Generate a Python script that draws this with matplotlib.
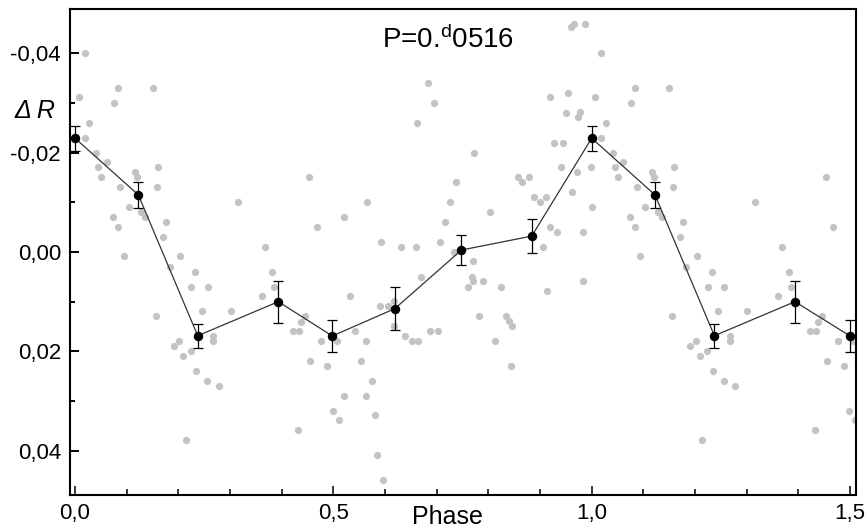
import matplotlib
matplotlib.use("Agg")
import matplotlib.pyplot as plt
from matplotlib.ticker import FixedLocator, MultipleLocator

plt.rcParams['font.family'] = ['Liberation Sans', 'DejaVu Sans']
plt.rcParams['mathtext.fontset'] = 'custom'
plt.rcParams['mathtext.rm'] = 'Liberation Sans'
plt.rcParams['mathtext.it'] = 'Liberation Sans:italic'

# ---- individual observations (gray) ----
obs_phase = [
    0.019, 0.007, 0.083, 0.150, 0.076, 0.028, 0.019, 0.041, 0.061, 0.045,
    0.050, 0.116, 0.120, 0.160, 0.088, 0.158, 0.316, 0.104, 0.128, 0.136,
    0.074, 0.083, 0.177, 0.170, 0.094, 0.203,
    0.661, 0.4535, 0.566, 0.521, 0.468, 0.368, 0.592, 0.630, 0.660,
    0.960, 0.966, 0.987, 0.683, 0.694, 0.919, 0.954, 0.950, 0.977, 0.974,
    0.773, 0.928, 0.944, 0.941, 0.972, 0.998, 0.737, 0.857, 0.866, 0.878,
    0.726, 0.803, 0.889, 0.900, 0.911, 0.961, 1.000, 0.716, 0.920, 0.933,
    0.984, 0.706, 0.734, 0.906,
    0.183, 0.232, 0.225, 0.257, 0.156, 0.245, 0.301, 0.267, 0.267, 0.201,
    0.191, 0.224, 0.209, 0.235, 0.256, 0.278, 0.214,
    0.382, 0.385, 0.361, 0.446, 0.438, 0.422, 0.434, 0.432, 0.532, 0.476,
    0.5065, 0.542, 0.563, 0.590, 0.606, 0.617, 0.617, 0.639, 0.652, 0.663,
    0.670, 0.455, 0.488, 0.553, 0.575, 0.521, 0.563, 0.499, 0.510, 0.581,
    0.585, 0.597,
    0.771, 0.769, 0.771, 0.760, 0.790, 0.824, 0.983, 0.914, 0.781, 0.834,
    0.840, 0.845, 0.687, 0.702, 0.813, 0.843,
    # second cycle
    1.019, 1.007, 1.083, 1.150, 1.076, 1.028, 1.019, 1.041, 1.061, 1.045,
    1.050, 1.116, 1.120, 1.160, 1.088, 1.158, 1.316, 1.104, 1.128, 1.136,
    1.074, 1.083, 1.177, 1.170, 1.094, 1.203, 1.4535, 1.468, 1.368,
    1.183, 1.232, 1.225, 1.257, 1.156, 1.245, 1.301, 1.267, 1.267, 1.201,
    1.191, 1.224, 1.209, 1.235, 1.256, 1.278, 1.214,
    1.382, 1.385, 1.361, 1.446, 1.438, 1.422, 1.434, 1.432, 1.476, 1.5065,
    1.455, 1.488, 1.499, 1.510,
]
obs_dr = [
    -0.0400, -0.0311, -0.0330, -0.0330, -0.0300, -0.0260, -0.0230, -0.0200, -0.0181, -0.0171,
    -0.0150, -0.0160, -0.0151, -0.0171, -0.0130, -0.0130, -0.0101, -0.0090, -0.0081, -0.0070,
    -0.0070, -0.0050, -0.0060, -0.0030, 0.0009, 0.0009,
    -0.0260, -0.0150, -0.0101, -0.0070, -0.0050, -0.0011, -0.0021, -0.0011, -0.0011,
    -0.0452, -0.0459, -0.0459, -0.0341, -0.0300, -0.0311, -0.0320, -0.0280, -0.0281, -0.0271,
    -0.0200, -0.0220, -0.0220, -0.0171, -0.0160, -0.0171, -0.0140, -0.0150, -0.0140, -0.0150,
    -0.0101, -0.0081, -0.0110, -0.0101, -0.0110, -0.0120, -0.0090, -0.0060, -0.0050, -0.0041,
    -0.0041, -0.0021, 0.0000, -0.0011,
    0.0030, 0.0040, 0.0070, 0.0070, 0.0129, 0.0119, 0.0119, 0.0169, 0.0179, 0.0179,
    0.0189, 0.0199, 0.0209, 0.0239, 0.0259, 0.0269, 0.0379,
    0.0040, 0.0070, 0.0089, 0.0129, 0.0140, 0.0159, 0.0159, 0.0359, 0.0089, 0.0179,
    0.0179, 0.0159, 0.0179, 0.0109, 0.0109, 0.0099, 0.0149, 0.0169, 0.0179, 0.0179,
    0.0050, 0.0219, 0.0229, 0.0219, 0.0259, 0.0289, 0.0289, 0.0319, 0.0339, 0.0329,
    0.0409, 0.0459,
    0.0019, 0.0050, 0.0058, 0.0070, 0.0058, 0.0070, 0.0058, 0.0079, 0.0129, 0.0129,
    0.0139, 0.0149, 0.0159, 0.0159, 0.0179, 0.0229,
    # second cycle
    -0.0400, -0.0311, -0.0330, -0.0330, -0.0300, -0.0260, -0.0230, -0.0200, -0.0181, -0.0171,
    -0.0150, -0.0160, -0.0151, -0.0171, -0.0130, -0.0130, -0.0101, -0.0090, -0.0081, -0.0070,
    -0.0070, -0.0050, -0.0060, -0.0030, 0.0009, 0.0009, -0.0150, -0.0050, -0.0011,
    0.0030, 0.0040, 0.0070, 0.0070, 0.0129, 0.0119, 0.0119, 0.0169, 0.0179, 0.0179,
    0.0189, 0.0199, 0.0209, 0.0239, 0.0259, 0.0269, 0.0379,
    0.0040, 0.0070, 0.0089, 0.0129, 0.0140, 0.0159, 0.0159, 0.0359, 0.0179, 0.0179,
    0.0219, 0.0229, 0.0319, 0.0339,
]

# ---- binned means with errors (black) ----
bin_phase = [0.000, 0.1225, 0.2375, 0.3935, 0.498, 0.619, 0.748, 0.884,
             1.000, 1.1225, 1.2375, 1.3935, 1.500]
bin_dr = [-0.0229, -0.0115, 0.01685, 0.0100, 0.0169, 0.0114, -0.0004, -0.0032,
          -0.0229, -0.0115, 0.01685, 0.0100, 0.0169]
bin_err = [0.0025, 0.0026, 0.0024, 0.0042, 0.0033, 0.0043, 0.0031, 0.0035,
           0.0025, 0.0026, 0.0024, 0.0042, 0.0033]

x_major = [0.0, 0.5, 1.0, 1.5]
x_labels = ['0,0', '0,5', '1,0', '1,5']
y_major = [-0.04, -0.02, 0.00, 0.02, 0.04]
y_labels = ['-0,04', '-0,02', '0,00', '0,02', '0,04']

W, H = 868, 530
fig = plt.figure(figsize=(W / 100, H / 100), dpi=100)
ax = fig.add_axes([70 / W, 1 - 495 / H, (856 - 70) / W, (495 - 9) / H])

ax.plot(obs_phase, obs_dr, 'o', color='#c3c3c3', markersize=5.2,
        markeredgewidth=0, zorder=2)
ax.plot(bin_phase, bin_dr, '-', color='#333333', lw=0.9, zorder=3)
ax.errorbar(bin_phase, bin_dr, yerr=bin_err, fmt='none', ecolor='black',
            elinewidth=0.9, capsize=3.6, capthick=0.9, zorder=4)
ax.plot(bin_phase, bin_dr, 'o', color='black', markersize=5.8, zorder=5)

ax.set_xlim(-0.0097, 1.5116)
ax.set_ylim(0.0489, -0.0489)

ax.xaxis.set_major_locator(FixedLocator(x_major))
ax.set_xticklabels(x_labels)
ax.xaxis.set_minor_locator(MultipleLocator(0.1))
ax.yaxis.set_major_locator(FixedLocator(y_major))
ax.set_yticklabels(y_labels)
ax.yaxis.set_minor_locator(MultipleLocator(0.01))

ax.tick_params(axis='both', which='both', direction='in', labelsize=16,
               top=False, right=False)
ax.tick_params(axis='y', which='major', length=6.5, width=1.4, pad=6.5)
ax.tick_params(axis='y', which='minor', length=3.6, width=1.4)
ax.tick_params(axis='x', which='major', length=6.5, width=1.1, pad=6)
ax.tick_params(axis='x', which='minor', length=4.0, width=1.1)
for s in ax.spines.values():
    s.set_linewidth(1.5)

fig.text(447 / W, 1 - 524 / H, 'Phase', fontsize=18, ha='center', va='baseline')
fig.text(14 / W, 1 - 118 / H, '\u0394 R', fontsize=18, style='italic',
         ha='left', va='baseline')
fig.text(448 / W, 1 - 48 / H, r'P=0.$^{\mathrm{d}}$0516', fontsize=20,
         ha='center', va='baseline')

fig.savefig('out.png', dpi=100)
